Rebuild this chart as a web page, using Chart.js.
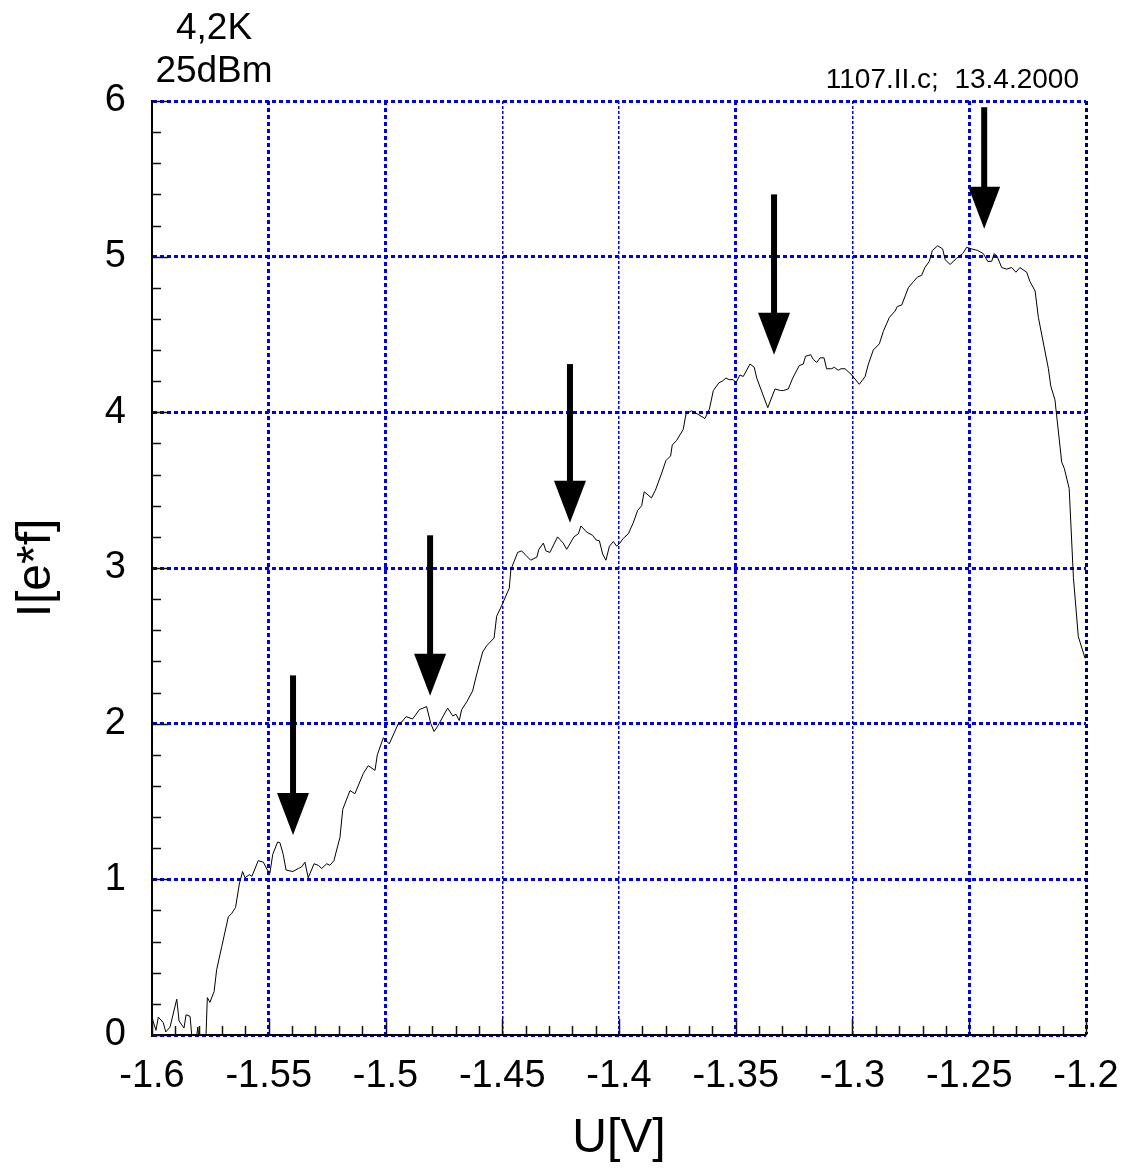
<!DOCTYPE html>
<html>
<head>
<meta charset="utf-8">
<script src="https://cdn.jsdelivr.net/npm/chart.js@4/dist/chart.umd.min.js"></script>
<style>
  html, body { margin: 0; padding: 0; background: #fff; }
  canvas { display: block; }
</style>
</head>
<body>
<canvas id="chart" width="1128" height="1168"></canvas>
<script>
// Gate voltage U [V]
const voltage = [
  -1.6000, -1.5983, -1.5973, -1.5952, -1.5941, -1.5923, -1.5894, -1.5884, -1.5863, -1.5854,
  -1.5837, -1.5827, -1.5816, -1.5804, -1.5794, -1.5771,
  -1.5763, -1.5752, -1.5734, -1.5723, -1.5701, -1.5673, -1.5659, -1.5642, -1.5626, -1.5612,
  -1.5602, -1.5583, -1.5572, -1.5545, -1.5523, -1.5506, -1.5495, -1.5483, -1.5462, -1.5452,
  -1.5438, -1.5426, -1.5397, -1.5373, -1.5359, -1.5345, -1.5331, -1.5306, -1.5288, -1.5273,
  -1.5252, -1.5238, -1.5221, -1.5195, -1.5183, -1.5152, -1.5131, -1.5095, -1.5074, -1.5045,
  -1.5035, -1.5009, -1.4984, -1.4945, -1.4931, -1.4912, -1.4884, -1.4855, -1.4824, -1.4806,
  -1.4792, -1.4778, -1.4734, -1.4712, -1.4698, -1.4684, -1.4674, -1.4652, -1.4627, -1.4609,
  -1.4584, -1.4567, -1.4535, -1.4524, -1.4502, -1.4470, -1.4463, -1.4434, -1.4417, -1.4398,
  -1.4378, -1.4352, -1.4343, -1.4324, -1.4313, -1.4296, -1.4263, -1.4239, -1.4224, -1.4193,
  -1.4174, -1.4163, -1.4138, -1.4113, -1.4098, -1.4084, -1.4070, -1.4056, -1.4041, -1.4024,
  -1.4010, -1.3996, -1.3982, -1.3960, -1.3939, -1.3920, -1.3903, -1.3892, -1.3861, -1.3844,
  -1.3817, -1.3799, -1.3779, -1.3772, -1.3753, -1.3725, -1.3713, -1.3689, -1.3665, -1.3632,
  -1.3613, -1.3596, -1.3572, -1.3558, -1.3542, -1.3528, -1.3511, -1.3499, -1.3482, -1.3468,
  -1.3439, -1.3421, -1.3410, -1.3363, -1.3332, -1.3308, -1.3296, -1.3275, -1.3256, -1.3228,
  -1.3211, -1.3201, -1.3179, -1.3168, -1.3153, -1.3139, -1.3122, -1.3111, -1.3089, -1.3078,
  -1.3061, -1.3049, -1.3032, -1.3003, -1.2971, -1.2946, -1.2932, -1.2911, -1.2885, -1.2868,
  -1.2842, -1.2818, -1.2808, -1.2789, -1.2761, -1.2739, -1.2721, -1.2704, -1.2690, -1.2671,
  -1.2658, -1.2635, -1.2614, -1.2603, -1.2582, -1.2554, -1.2528, -1.2511, -1.2490, -1.2464,
  -1.2440, -1.2421, -1.2404, -1.2393, -1.2380, -1.2361, -1.2340, -1.2318, -1.2300, -1.2283,
  -1.2254, -1.2240, -1.2218, -1.2204, -1.2161, -1.2151, -1.2133, -1.2104, -1.2093, -1.2072,
  -1.2054, -1.2033, -1.2004
];

// Pumped current I in units of e*f
const current = [
  0.11, 0.03, 0.115, 0.08, 0.02, 0.05, 0.23, 0.09, 0.045, 0.13,
  0.12, -0.05, -0.10, 0.05, -0.10, -0.10,
  0.24, 0.21, 0.28, 0.42, 0.57, 0.76, 0.78, 0.82, 0.97, 1.05,
  1.01, 1.03, 1.02, 1.12, 1.11, 1.06, 1.04, 1.16, 1.24, 1.235,
  1.16, 1.06, 1.05, 1.07, 1.08, 1.11, 1.01, 1.10, 1.09, 1.07,
  1.10, 1.09, 1.12, 1.27, 1.45, 1.57, 1.55, 1.68, 1.73, 1.70,
  1.80, 1.91, 1.87, 2.00, 2.01, 2.045, 2.03, 2.09, 2.11, 2.00,
  1.95, 1.98, 2.10, 2.05, 2.06, 2.02, 2.09, 2.14, 2.21, 2.32,
  2.46, 2.50, 2.55, 2.69, 2.76, 2.87, 2.99, 3.10, 3.11, 3.08,
  3.05, 3.07, 3.12, 3.16, 3.11, 3.10, 3.20, 3.16, 3.12, 3.20,
  3.22, 3.27, 3.23, 3.21, 3.18, 3.175, 3.09, 3.05, 3.14, 3.17,
  3.14, 3.16, 3.19, 3.22, 3.29, 3.37, 3.40, 3.49, 3.45, 3.50,
  3.61, 3.69, 3.72, 3.79, 3.82, 3.89, 3.99, 4.01, 3.99, 3.96,
  4.02, 4.14, 4.19, 4.20, 4.22, 4.21, 4.21, 4.19, 4.24, 4.23,
  4.31, 4.29, 4.22, 4.03, 4.15, 4.14, 4.14, 4.15, 4.22, 4.30,
  4.31, 4.36, 4.37, 4.34, 4.32, 4.35, 4.35, 4.28, 4.28, 4.29,
  4.27, 4.28, 4.28, 4.24, 4.18, 4.23, 4.31, 4.40, 4.44, 4.52,
  4.61, 4.65, 4.68, 4.69, 4.80, 4.84, 4.87, 4.88, 4.93, 4.97,
  5.04, 5.07, 5.05, 4.98, 4.95, 4.99, 5.02, 5.06, 5.05, 5.04,
  5.02, 4.97, 4.97, 5.02, 5.00, 4.93, 4.92, 4.93, 4.90, 4.93,
  4.90, 4.84, 4.78, 4.61, 4.28, 4.17, 4.08, 3.68, 3.64, 3.51,
  2.94, 2.56, 2.42
];

// Plateau markers: voltage position, tail and tip heights of each arrow
const arrowU   = [-1.5396, -1.4809, -1.4210, -1.3336, -1.2436];
const arrowTop = [2.31, 3.21, 4.31, 5.40, 5.96];
const arrowTip = [1.285, 2.18, 3.29, 4.37, 5.18];

// Axis tick values
const xTickValues = [-1.6, -1.55, -1.5, -1.45, -1.4, -1.35, -1.3, -1.25, -1.2];
const yTickValues = [0, 1, 2, 3, 4, 5, 6];

// Annotation texts
const conditionLines = ['4,2K', '25dBm'];
const runLabel = '1107.II.c;  13.4.2000';

const FONT = "'Liberation Sans', Arial, Helvetica, sans-serif";
const BLUE = '#0000e6';
const thickX = [-155, -150, -135, -125, -120];

function xKey(c) {
  return c.tick ? Math.round(c.tick.value * 100) : 0;
}

const decorations = {
  id: 'decorations',
  afterDatasetsDraw(chart) {
    const { ctx, chartArea: a, scales: { x, y } } = chart;
    ctx.save();

    // inward tick marks, minor and major
    ctx.strokeStyle = '#111';
    ctx.lineWidth = 1.5;
    ctx.beginPath();
    for (let k = 0; k <= 40; k++) {
      const px = Math.round(x.getPixelForValue(-1.6 + k * 0.01)) + 0.5;
      const len = k % 5 === 0 ? 16 : 9;
      ctx.moveTo(px, a.bottom);
      ctx.lineTo(px, a.bottom - len);
    }
    for (let k = 0; k <= 30; k++) {
      const py = Math.round(y.getPixelForValue(k * 0.2)) + 0.5;
      const len = k % 5 === 0 ? 16 : 9;
      ctx.moveTo(a.left, py);
      ctx.lineTo(a.left + len, py);
    }
    ctx.stroke();

    // arrows
    ctx.fillStyle = '#000';
    const headLen = 42, headHalf = 16, shaftHalf = 3;
    for (let i = 0; i < arrowU.length; i++) {
      const px = x.getPixelForValue(arrowU[i]);
      const top = y.getPixelForValue(arrowTop[i]);
      const tip = y.getPixelForValue(arrowTip[i]);
      ctx.fillRect(px - shaftHalf, top, shaftHalf * 2, tip - top - headLen + 1);
      ctx.beginPath();
      ctx.moveTo(px - headHalf, tip - headLen);
      ctx.lineTo(px + headHalf, tip - headLen);
      ctx.lineTo(px, tip);
      ctx.closePath();
      ctx.fill();
    }

    // header texts
    ctx.fillStyle = '#000';
    ctx.textBaseline = 'alphabetic';
    ctx.textAlign = 'center';
    ctx.font = '37px ' + FONT;
    ctx.fillText(conditionLines[0], 214, 39);
    ctx.fillText(conditionLines[1], 214, 82);
    ctx.textAlign = 'right';
    ctx.font = '28px ' + FONT;
    ctx.fillText(runLabel, 1079, 88);
    ctx.restore();
  }
};

new Chart(document.getElementById('chart'), {
  type: 'scatter',
  data: {
    datasets: [{
      data: voltage.map((u, i) => ({ x: u, y: current[i] })),
      showLine: true,
      borderColor: '#000',
      borderWidth: 1,
      pointRadius: 0,
      tension: 0,
      fill: false
    }]
  },
  options: {
    responsive: false,
    animation: false,
    devicePixelRatio: 1,
    layout: { padding: { top: 101, right: 42, left: 0, bottom: 0 } },
    plugins: { legend: { display: false }, tooltip: { enabled: false } },
    scales: {
      x: {
        type: 'linear',
        min: -1.6,
        max: -1.2,
        afterFit(s) { s.height = 133; s.paddingLeft = 0; s.paddingRight = 0; },
        afterBuildTicks(s) { s.ticks = xTickValues.map(v => ({ value: v })); },
        ticks: {
          autoSkip: false,
          maxRotation: 0,
          color: '#000',
          padding: 19,
          font: { family: FONT, size: 38 },
          callback: v => String(Number(Number(v).toFixed(2)))
        },
        grid: {
          drawTicks: false,
          color: c => xKey(c) === -120 ? '#00006a' : BLUE,
          lineWidth: c => xKey(c) === -120 ? 3 : (thickX.includes(xKey(c)) ? 3 : 1.5)
        },
        border: {
          display: true,
          color: '#000',
          width: 2,
          dash: c => thickX.includes(xKey(c)) ? [4, 3] : [3, 2]
        },
        title: {
          display: true,
          text: 'U[V]',
          color: '#000',
          font: { family: FONT, size: 48 },
          padding: { top: 0, bottom: 0 }
        }
      },
      y: {
        min: 0,
        max: 6,
        afterFit(s) { s.width = 152; s.paddingTop = 0; s.paddingBottom = 0; },
        afterBuildTicks(s) { s.ticks = yTickValues.map(v => ({ value: v })); },
        ticks: {
          color: '#000',
          padding: 26,
          font: { family: FONT, size: 38 }
        },
        grid: {
          drawTicks: false,
          color: BLUE,
          lineWidth: 3
        },
        border: {
          display: true,
          color: '#000',
          width: 2,
          dash: [4, 3]
        },
        title: {
          display: true,
          text: 'I[e*f]',
          color: '#000',
          font: { family: FONT, size: 48 },
          padding: { top: 8, bottom: 0 }
        }
      }
    }
  },
  plugins: [decorations]
});
</script>
</body>
</html>
